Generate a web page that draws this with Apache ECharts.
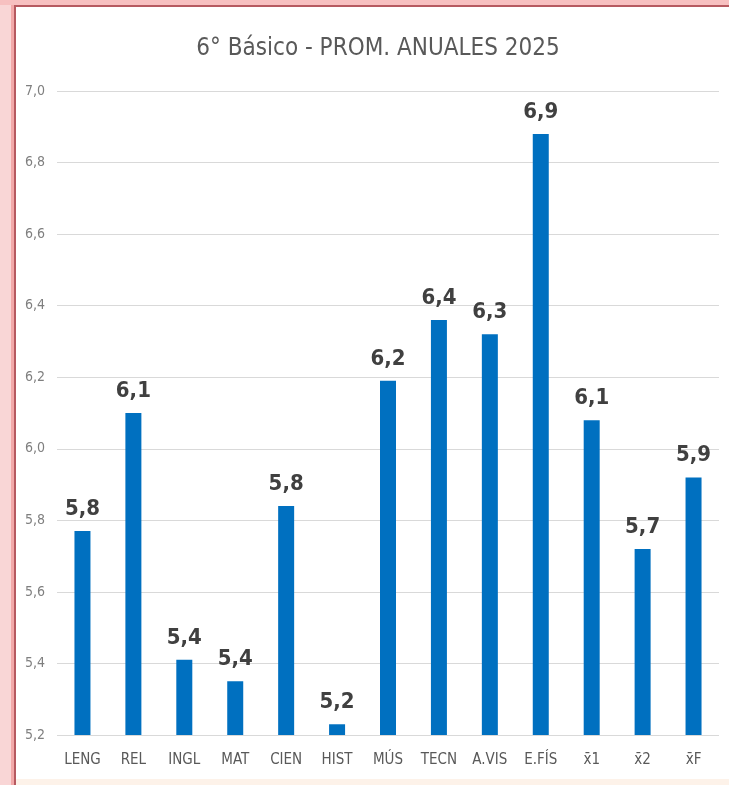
<!DOCTYPE html>
<html>
<head>
<meta charset="utf-8">
<script src="https://cdn.jsdelivr.net/npm/echarts@6/dist/echarts.min.js"></script>
<style>
html,body{margin:0;padding:0;background:#fff;}
#c{width:729px;height:785px;}
</style>
</head>
<body>
<div id="c"></div>
<script>
const titleText = "6° Básico - PROM. ANUALES 2025";
const categories = ["LENG","REL","INGL","MAT","CIEN","HIST","MÚS","TECN","A.VIS","E.FÍS","x̄1","x̄2","x̄F"];
const values = [5.77,6.10,5.41,5.35,5.84,5.23,6.19,6.36,6.32,6.88,6.08,5.72,5.92];
const yMin = 5.2, yMax = 7.0, yStep = 0.2;

const narrow = "'DejaVu Sans Condensed',sans-serif";
const chart = echarts.init(document.getElementById('c'), null, {renderer:'canvas'});
chart.setOption({
  animation:false,
  backgroundColor:'#ffffff',
  title:{
    text:titleText, left:373, top:32, textAlign:'center',
    textStyle:{fontFamily:narrow, fontSize:24, fontWeight:'normal', color:'#595959'}
  },
  grid:{left:57, right:10, top:91, bottom:50, containLabel:false},
  xAxis:{
    type:'category', data:categories,
    axisLine:{show:false}, axisTick:{show:false},
    axisLabel:{fontFamily:narrow, fontSize:15, color:'#595959', margin:18, interval:0}
  },
  yAxis:{
    type:'value', min:yMin, max:yMax, interval:yStep,
    axisLine:{show:false}, axisTick:{show:false},
    splitLine:{lineStyle:{color:'#d9d9d9', width:1}},
    axisLabel:{fontFamily:narrow, fontSize:14, color:'#7f7f7f', margin:12,
      formatter:v=>(Math.round(v*10)/10).toFixed(1).replace('.',',')}
  },
  series:[{
    type:'bar', data:values, barWidth:16,
    itemStyle:{color:'#0070c0'},
    label:{show:true, position:'top', distance:11,
      fontFamily:narrow, fontWeight:'bold', fontSize:22, color:'#404040',
      formatter:p=>(Math.round(p.value*10+1e-6)/10).toFixed(1).replace('.',',')}
  }],
  graphic:[
    {type:'rect', shape:{x:0,y:0,width:12,height:785}, style:{fill:'#f9d6d6'}, silent:true},
    {type:'rect', shape:{x:11,y:0,width:3,height:785}, style:{fill:'#f2a9a9'}, silent:true},
    {type:'rect', shape:{x:14,y:5,width:2,height:780}, style:{fill:'#b65a60'}, silent:true},
    {type:'rect', shape:{x:0,y:0,width:729,height:5}, style:{fill:'#f7c0c0'}, silent:true},
    {type:'rect', shape:{x:14,y:5,width:715,height:2}, style:{fill:'#b65a60'}, silent:true},
    {type:'rect', shape:{x:16,y:779,width:713,height:6}, style:{fill:'#fdf2e9'}, silent:true}
  ]
});
</script>
</body>
</html>
